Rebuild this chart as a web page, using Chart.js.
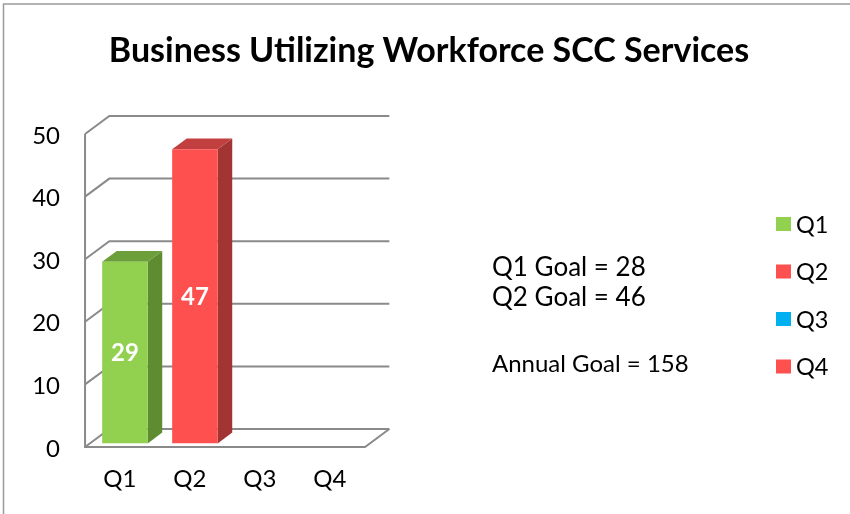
<!DOCTYPE html>
<html>
<head>
<meta charset="utf-8">
<title>Business Utilizing Workforce SCC Services</title>
<script src="https://cdn.jsdelivr.net/npm/chart.js@4.4.0/dist/chart.umd.min.js"></script>
<style>
    html, body { margin: 0; padding: 0; background: #ffffff; }
    #chartWrap { width: 850px; height: 514px; }
</style>
</head>
<body>
<div id="chartWrap"><canvas id="workforceChart" width="850" height="514"></canvas></div>
<script>
// ============================================
// DATA
// ============================================
const categories = ["Q1", "Q2", "Q3", "Q4"];
const businessCounts = [29, 47, null, null];
const quarterGoals = [28, 46];
const annualGoal = 158;
const yTicks = [0, 10, 20, 30, 40, 50];

// ============================================
// STYLE
// ============================================
const FONT = "Lato";
const FRONT_COLORS = ["#92D050", "#FF5050", "#00B0F0", "#FF5050"];
const SIDE_COLORS = ["#5F8B31", "#A33434", "#0077A3", "#A33434"];
const TOP_COLORS = ["#6C9E3A", "#C23F3F", "#0089BB", "#C23F3F"];
const GRID_COLOR = "#8A8A8A";

// Fake 3D: depth of the walls, measured from the plane the bar faces are drawn in
const DEPTH_X = 24.3;
const DEPTH_Y = -18;
const FRONT_T = -0.2;  // front edge of floor / left wall
const BACK_T = 0.8;    // back wall
const BAR_T = 0.6;     // depth of each bar

// ============================================
// PLUGINS
// ============================================

// Grey frame of the original chart object (top + left edges only)
const framePlugin = {
    id: "frame",
    beforeDraw(chart) {
        const ctx = chart.ctx;
        ctx.save();
        ctx.strokeStyle = "#9A9A9A";
        ctx.lineWidth = 1.5;
        ctx.beginPath();
        ctx.moveTo(3.5, chart.height);
        ctx.lineTo(3.5, 4);
        ctx.lineTo(chart.width, 4);
        ctx.stroke();
        ctx.restore();
    }
};

// Walls, floor and the side/top faces of the bars
const depthPlugin = {
    id: "depth",
    beforeDatasetsDraw(chart) {
        const { ctx, chartArea: a } = chart;
        const yScale = chart.scales.y;
        const fx = DEPTH_X * FRONT_T, fy = DEPTH_Y * FRONT_T;
        const bx = DEPTH_X * BACK_T, by = DEPTH_Y * BACK_T;

        ctx.save();
        ctx.strokeStyle = GRID_COLOR;
        ctx.lineWidth = 2;

        // gridlines: left wall diagonal + back wall line
        yTicks.forEach(v => {
            const py = yScale.getPixelForValue(v);
            ctx.beginPath();
            ctx.moveTo(a.left + fx, py + fy);
            ctx.lineTo(a.left + bx, py + by);
            ctx.lineTo(a.right + bx, py + by);
            ctx.stroke();
        });

        // front edge of left wall and of the floor
        const y0 = yScale.getPixelForValue(yTicks[0]);
        const yMax = yScale.getPixelForValue(yTicks[yTicks.length - 1]);
        ctx.beginPath();
        ctx.moveTo(a.left + fx, yMax + fy);
        ctx.lineTo(a.left + fx, y0 + fy);
        ctx.lineTo(a.right + fx, y0 + fy);
        ctx.lineTo(a.right + bx, y0 + by);
        ctx.stroke();

        // bar sides and tops (front face is drawn by Chart.js)
        const dx = DEPTH_X * BAR_T, dy = DEPTH_Y * BAR_T;
        chart.getDatasetMeta(0).data.forEach((bar, i) => {
            if (businessCounts[i] == null) return;
            const { x, y, base, width } = bar.getProps(["x", "y", "base", "width"], true);
            const l = x - width / 2, r = x + width / 2;

            ctx.fillStyle = SIDE_COLORS[i];
            ctx.beginPath();
            ctx.moveTo(r, y);
            ctx.lineTo(r + dx, y + dy);
            ctx.lineTo(r + dx, base + dy);
            ctx.lineTo(r, base);
            ctx.closePath();
            ctx.fill();

            ctx.fillStyle = TOP_COLORS[i];
            ctx.beginPath();
            ctx.moveTo(l, y);
            ctx.lineTo(l + dx, y + dy);
            ctx.lineTo(r + dx, y + dy);
            ctx.lineTo(r, y);
            ctx.closePath();
            ctx.fill();
        });
        ctx.restore();
    },
    afterDatasetsDraw(chart) {
        // value labels in the middle of each front face
        const ctx = chart.ctx;
        ctx.save();
        ctx.fillStyle = "#ffffff";
        ctx.font = `bold 24px ${FONT}`;
        ctx.textAlign = "center";
        ctx.textBaseline = "middle";
        chart.getDatasetMeta(0).data.forEach((bar, i) => {
            if (businessCounts[i] == null) return;
            const c = bar.getCenterPoint();
            ctx.fillText(String(businessCounts[i]), c.x, c.y + 1);
        });
        ctx.restore();
    }
};

// Legend + goal notes on the right side
const notesPlugin = {
    id: "notes",
    afterDraw(chart) {
        const ctx = chart.ctx;
        ctx.save();
        ctx.fillStyle = "#000000";
        ctx.textBaseline = "middle";
        ctx.textAlign = "left";

        ctx.font = `26px ${FONT}`;
        quarterGoals.forEach((goal, i) => {
            ctx.fillText(`${categories[i]} Goal = ${goal}`, 492, 268 + i * 30);
        });
        ctx.font = `24px ${FONT}`;
        ctx.fillText(`Annual Goal = ${annualGoal}`, 492, 364);

        categories.forEach((cat, i) => {
            const cy = 224 + i * 47.5;
            ctx.fillStyle = FRONT_COLORS[i];
            ctx.fillRect(776, cy - 7, 15, 14);
            ctx.fillStyle = "#000000";
            ctx.font = `23.5px ${FONT}`;
            ctx.fillText(cat, 796, cy + 1);
        });
        ctx.restore();
    }
};

// ============================================
// CHART
// ============================================
const tickFont = { family: FONT, size: 24 };

new Chart(document.getElementById("workforceChart"), {
    type: "bar",
    data: {
        labels: categories,
        datasets: [{
            data: businessCounts,
            backgroundColor: FRONT_COLORS,
            borderWidth: 0,
            barPercentage: 0.65,
            categoryPercentage: 1
        }]
    },
    options: {
        responsive: false,
        animation: false,
        layout: { padding: { left: 8 } },
        plugins: {
            legend: { display: false },
            tooltip: { enabled: false },
            title: {
                display: true,
                text: "Business Utilizing Workforce SCC Services",
                color: "#000000",
                font: { family: FONT, size: 34, weight: "bold" },
                padding: { top: 30.6, bottom: 59 }
            }
        },
        scales: {
            x: {
                grid: { display: false, drawTicks: false },
                border: { display: false },
                ticks: { font: tickFont, color: "#000000", padding: 21, labelOffset: -5 },
                afterFit(scale) { scale.height = 70.6; }
            },
            y: {
                min: 0,
                max: 50,
                grid: { display: false, drawTicks: false },
                border: { display: false },
                ticks: { font: tickFont, color: "#000000", padding: 29.9, labelOffset: 5.5 },
                afterBuildTicks(scale) { scale.ticks = yTicks.map(v => ({ value: v })); },
                afterFit(scale) { scale.width = 81.9; }
            },
            // empty axis that only reserves the right-hand area for the notes and legend
            notesArea: {
                type: "linear",
                position: "right",
                grid: { display: false, drawTicks: false },
                border: { display: false },
                ticks: { display: false },
                afterFit(scale) { scale.width = 480.1; }
            }
        }
    },
    plugins: [framePlugin, depthPlugin, notesPlugin]
});
</script>
</body>
</html>
